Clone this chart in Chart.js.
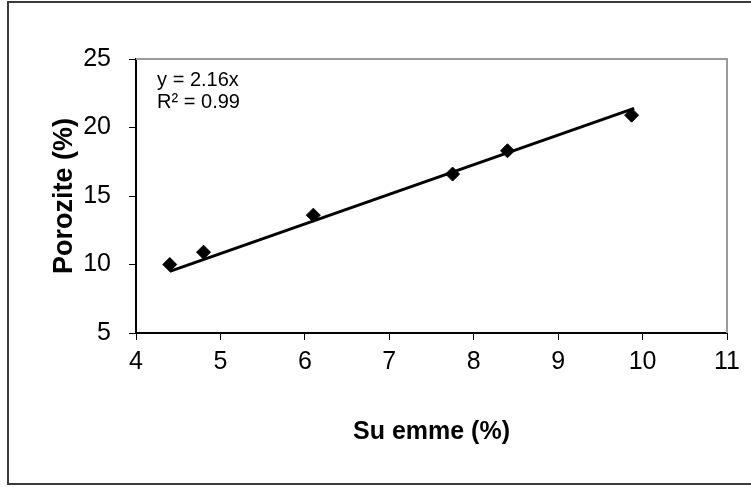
<!DOCTYPE html>
<html>
<head>
<meta charset="utf-8">
<script src="https://cdn.jsdelivr.net/npm/chart.js@4/dist/chart.umd.min.js"></script>
<style>
    html, body { margin: 0; padding: 0; background: #fff; }
    #wrap { width: 751px; height: 487px; }
</style>
</head>
<body>
<div id="wrap"><canvas id="poro-chart" width="751" height="487"></canvas></div>
<script>
var suEmme = [4.4, 4.8, 6.1, 7.75, 8.4, 9.87];
var porozite = [10.0, 10.9, 13.6, 16.6, 18.3, 20.9];
var trendX = [4.4, 9.9];
var trendY = [9.5, 21.4];
var xTicks = [4, 5, 6, 7, 8, 9, 10, 11];
var yTicks = [5, 10, 15, 20, 25];
var equationText = ["y = 2.16x", "R\u00b2 = 0.99"];

var tickFont = "'Liberation Sans', Arial, sans-serif";
var titleFont = "'Liberation Sans', Arial, sans-serif";

function toPoints(xs, ys) {
    var pts = [];
    for (var i = 0; i < xs.length; i++) {
        pts.push({ x: xs[i], y: ys[i] });
    }
    return pts;
}

// frame around the figure + grey plot border + equation label
var framePlugin = {
    id: "frame",
    beforeDraw: function (chart) {
        var ctx = chart.ctx;
        ctx.save();
        ctx.strokeStyle = "#3a3a3a";
        ctx.lineWidth = 2;
        ctx.strokeRect(8, 2, 760, 482);
        ctx.restore();
    },
    afterDraw: function (chart) {
        var ctx = chart.ctx;
        var a = chart.chartArea;
        ctx.save();
        ctx.strokeStyle = "#9a9a9a";
        ctx.lineWidth = 2;
        ctx.beginPath();
        ctx.moveTo(a.left, a.top);
        ctx.lineTo(a.right, a.top);
        ctx.lineTo(a.right, a.bottom);
        ctx.stroke();

        var x = chart.scales.x.getPixelForValue(4.25);
        var y = chart.scales.y.getPixelForValue(23.4);
        ctx.fillStyle = "#000";
        ctx.font = "20px " + tickFont;
        ctx.textBaseline = "middle";
        ctx.textAlign = "left";
        ctx.fillText(equationText[0], x, y);
        ctx.fillText(equationText[1], x, y + 22);
        ctx.restore();
    },
};

var context = document.getElementById("poro-chart").getContext("2d");

var myChart = new Chart(context, {
    type: "scatter",
    data: {
        datasets: [
            {
                label: "trend",
                type: "line",
                data: toPoints(trendX, trendY),
                borderColor: "#000",
                borderWidth: 3,
                pointRadius: 0,
                fill: false,
            },
            {
                label: "Porozite",
                data: toPoints(suEmme, porozite),
                pointStyle: "rectRot",
                pointRadius: 7,
                backgroundColor: "#000",
                borderColor: "#000",
                borderWidth: 1,
            },
        ],
    },
    plugins: [framePlugin],
    options: {
        responsive: false,
        animation: false,
        devicePixelRatio: 1,
        layout: { padding: { top: 59, right: 24, left: 44, bottom: 36 } },
        plugins: {
            legend: { display: false },
            tooltip: { enabled: false },
        },
        scales: {
            x: {
                type: "linear",
                min: 4,
                max: 11,
                afterBuildTicks: function (scale) {
                    scale.ticks = xTicks.map(function (v) { return { value: v }; });
                },
                afterFit: function (scale) {
                    scale.height = 118;
                },
                grid: {
                    drawOnChartArea: false,
                    drawTicks: true,
                    tickLength: 7,
                    color: "#000",
                },
                border: { display: true, color: "#000", width: 2 },
                ticks: {
                    color: "#000",
                    padding: 7,
                    font: { family: tickFont, size: 25 },
                },
                title: {
                    display: true,
                    text: "Su emme (%)",
                    color: "#000",
                    padding: { top: 22 },
                    font: { family: titleFont, size: 25, weight: "bold" },
                },
            },
            y: {
                min: 5,
                max: 25,
                afterBuildTicks: function (scale) {
                    scale.ticks = yTicks.map(function (v) { return { value: v }; });
                },
                afterFit: function (scale) {
                    scale.width = 92;
                },
                grid: {
                    drawOnChartArea: false,
                    drawTicks: true,
                    tickLength: 7,
                    color: "#000",
                },
                border: { display: true, color: "#000", width: 2 },
                ticks: {
                    color: "#000",
                    padding: 18,
                    font: { family: tickFont, size: 25 },
                },
                title: {
                    display: true,
                    text: "Porozite (%)",
                    color: "#000",
                    padding: { bottom: 0 },
                    font: { family: titleFont, size: 27, weight: "bold" },
                },
            },
        },
    },
});
</script>
</body>
</html>
